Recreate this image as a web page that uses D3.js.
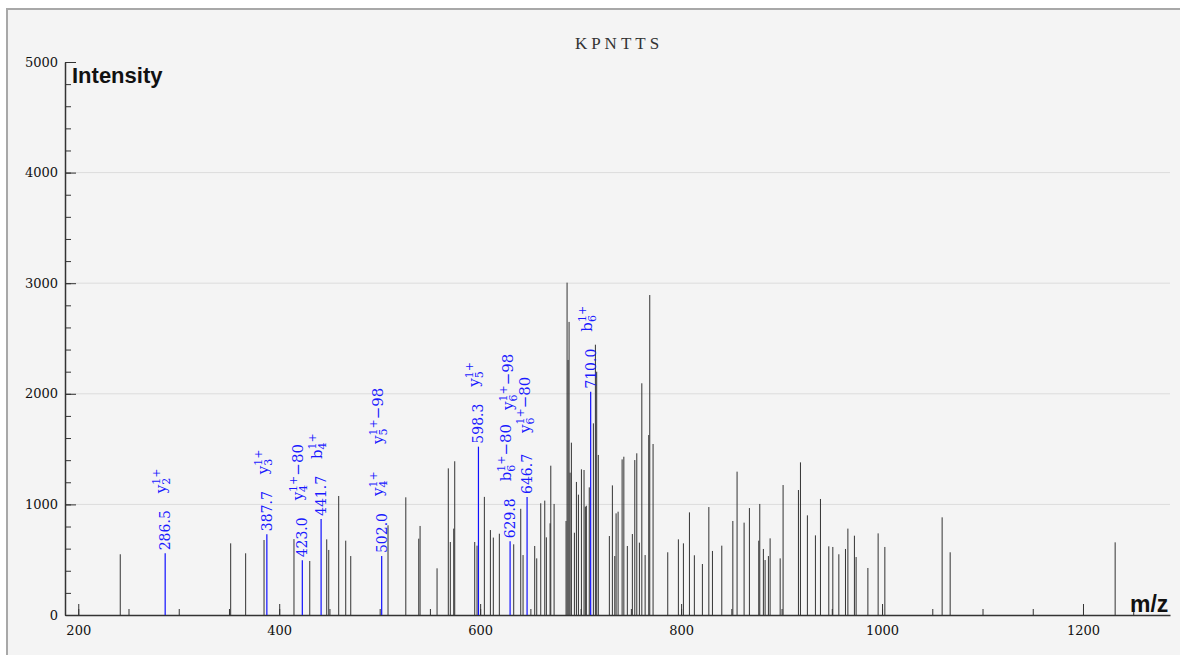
<!DOCTYPE html>
<html>
<head>
<meta charset="utf-8">
<script src="https://cdn.jsdelivr.net/npm/d3@7"></script>
<style>
  html, body { margin: 0; padding: 0; background: #fff; }
  svg { display: block; }
  .axis path, .axis line { stroke: #333; }
  .title { font-family: "Liberation Serif", "DejaVu Serif", serif; font-size: 17px; fill: #333; }
  .axis-name { font-family: "Liberation Sans", Arial, sans-serif; font-weight: bold; fill: #111; }
  .annot { font-family: "DejaVu Serif", serif; fill: #1a1aff; }
</style>
</head>
<body>
<div id="chart"></div>
<script>
// spectrum title
const title = "KPNTTS";

// unassigned peaks (m/z, intensity)
const peakMz = [241.8, 351.7, 366.6, 384.9, 414.7, 430.4, 447.3, 449.3, 459.2, 466.2, 471.2,
  508.3, 526.0, 538.9, 540.2, 557.1, 568.3, 570.3, 573.7, 574.7, 594.6, 596.9,
  604.2, 610.2, 613.1, 619.1, 633.4, 640.4, 642.7, 654.3, 656.3, 660.3, 664.3, 665.9,
  669.6, 670.3, 673.6, 685.5, 686.5, 687.5, 688.5, 689.5, 690.8, 693.8, 695.8, 697.8,
  700.8, 703.4, 704.7, 705.7, 708.6, 712.7, 714.7, 716.0, 717.6, 728.6, 731.6, 734.0,
  735.3, 737.3, 741.3, 743.0, 746.5, 751.5, 753.9, 755.9, 758.5, 760.9, 764.2, 767.8,
  768.8, 772.1, 786.7, 797.3, 802.3, 808.3, 813.2, 821.2, 827.6, 831.2, 840.5, 851.5,
  855.7, 862.7, 868.0, 877.3, 878.3, 881.9, 883.6, 886.9, 888.6, 898.6, 901.5, 916.8,
  918.8, 925.7, 933.7, 938.7, 947.0, 951.0, 957.0, 963.6, 966.0, 972.5, 974.2, 985.9,
  996.1, 1002.8, 1059.8, 1067.8, 1232.0];
const peakIntensity = [549, 648, 558, 678, 686, 488, 684, 588, 1076, 672, 533,
  811, 1064, 690, 805, 422, 1326, 660, 781, 1390, 660, 627,
  1068, 768, 700, 735, 639, 960, 542, 624, 512, 1010, 1034, 702,
  829, 1350, 1004, 850, 3005, 2306, 2650, 1287, 1558, 744, 1203, 1088,
  1317, 1311, 979, 988, 1154, 1733, 2444, 2200, 1447, 714, 1172, 533,
  919, 934, 1407, 1431, 624, 732, 1401, 1462, 654, 2095, 542, 1627,
  2893, 1546, 567, 684, 648, 928, 540, 461, 976, 579, 627, 850,
  1296, 835, 967, 672, 1004, 597, 497, 533, 693, 512, 1175, 1130,
  1380, 901, 720, 1049, 621, 615, 549, 597, 781, 717, 524, 425,
  738, 615, 883, 567, 657];

// assigned peaks and their fragment ions
const annotMz = [286.5, 387.7, 423.0, 441.7, 502.0, 598.3, 629.8, 646.7, 710.0];
const annotIntensity = [558, 730, 494, 868, 533, 1522, 666, 1067, 2019];
const annotIons = [["y2"], ["y3"], ["y4-80"], ["b4"], ["y4", "y5-98"], ["y5"], ["b6-80"], ["y6-80", "y6-98"], ["b6"]];
const ionCharge = "1+";

// axis ticks
const xMajorTicks = [200, 400, 600, 800, 1000, 1200];
const xMinorTicks = d3.range(200, 1251, 50);
const yMajorTicks = [0, 1000, 2000, 3000, 4000, 5000];
const yMinorTicks = d3.range(0, 5001, 200);
const gridTicks = [1000, 2000, 3000, 4000];

class SpectrumView {
  constructor(containerId) {
    this.container = d3.select(containerId);
    this.W = 1180; this.H = 655;
    this.plot = {left: 65, right: 1170, top: 62, bottom: 615};
    this.svg = this.container.append("svg")
      .attr("width", this.W).attr("height", this.H);
    // label nudges where labels would collide
    this.labelNudge = {"646.7:0": {rise: 64, dx: 2}, "646.7:1": {rise: 87, dx: -15}};
  }

  styleTicks(g) {
    g.selectAll("text")
      .attr("font-family", "DejaVu Serif, serif")
      .attr("font-size", 13)
      .attr("fill", "#111");
  }

  draw() {
    const svg = this.svg, p = this.plot;

    // frame
    svg.append("rect")
      .attr("x", 7).attr("y", 9).attr("width", 1200).attr("height", 680)
      .attr("fill", "#f4f4f4").attr("stroke", "#a8a8a8").attr("stroke-width", 2);

    this.x = d3.scaleLinear().domain([186.8, 1286.6]).range([p.left, p.right]);
    this.y = d3.scaleLinear().domain([0, 5000]).range([p.bottom, p.top]);

    // grid
    svg.append("g").selectAll("line").data(gridTicks).join("line")
      .attr("x1", p.left).attr("x2", p.right)
      .attr("y1", d => this.y(d)).attr("y2", d => this.y(d))
      .attr("stroke", "#dcdcdc").attr("stroke-width", 1);

    svg.append("text").attr("class", "title")
      .attr("x", 619).attr("y", 49).attr("text-anchor", "middle")
      .attr("letter-spacing", 4).text(title);

    // axes
    svg.append("g").attr("class", "axis")
      .attr("transform", `translate(0,${p.bottom})`)
      .call(d3.axisBottom(this.x).tickValues(xMinorTicks).tickSize(-6).tickFormat(""))
      .call(g => g.select(".domain").remove());
    svg.append("g").attr("class", "axis")
      .attr("transform", `translate(0,${p.bottom})`)
      .call(d3.axisBottom(this.x).tickValues(xMajorTicks).tickSizeInner(-11).tickSizeOuter(0).tickPadding(11).tickFormat(d3.format("d")))
      .call(g => g.select(".domain").attr("stroke-width", 1.5))
      .call(g => this.styleTicks(g));

    svg.append("g").attr("class", "axis")
      .attr("transform", `translate(${p.left},0)`)
      .call(d3.axisLeft(this.y).tickValues(yMinorTicks).tickSize(-6).tickFormat(""))
      .call(g => g.select(".domain").remove());
    svg.append("g").attr("class", "axis")
      .attr("transform", `translate(${p.left},0)`)
      .call(d3.axisLeft(this.y).tickValues(yMajorTicks).tickSizeInner(-11).tickSizeOuter(0).tickPadding(7).tickFormat(d3.format("d")))
      .call(g => g.select(".domain").attr("stroke-width", 1.5))
      .call(g => this.styleTicks(g));

    // peaks
    svg.append("g").selectAll("line").data(peakMz).join("line")
      .attr("x1", d => this.x(d)).attr("x2", d => this.x(d))
      .attr("y1", this.y(0)).attr("y2", (d, i) => this.y(peakIntensity[i]))
      .attr("stroke", "#333").attr("stroke-width", 1);

    const ann = annotMz.map((mz, i) => ({mz, inten: annotIntensity[i], ions: annotIons[i]}));
    const ag = svg.append("g");
    ag.selectAll("line").data(ann).join("line")
      .attr("x1", d => this.x(d.mz)).attr("x2", d => this.x(d.mz))
      .attr("y1", this.y(0)).attr("y2", d => this.y(d.inten))
      .attr("stroke", "#1010ff").attr("stroke-width", 1.2);

    ann.forEach(d => {
      const px = this.x(d.mz), top = this.y(d.inten);
      ag.append("text").attr("class", "annot")
        .attr("font-size", 14)
        .attr("transform", `translate(${px + 5},${top - 3}) rotate(-90)`)
        .text(d.mz.toFixed(1));
      d.ions.forEach((ion, k) => {
        const nudge = this.labelNudge[`${d.mz.toFixed(1)}:${k}`] || {rise: 60 + k * 52, dx: 0};
        this.ionLabel(ag, ion, px + nudge.dx + 1, top - nudge.rise);
      });
    });

    svg.append("text").attr("class", "axis-name")
      .attr("x", 72).attr("y", 83).attr("font-size", 22).text("Intensity");
    svg.append("text").attr("class", "axis-name")
      .attr("x", 1130).attr("y", 612).attr("font-size", 23).text("m/z");
  }

  ionLabel(g, ion, x, y) {
    const m = ion.match(/^([a-z])(\d+)(-\d+)?$/);
    const t = g.append("text").attr("class", "annot")
      .attr("font-size", 15)
      .attr("transform", `translate(${x},${y}) rotate(-90)`);
    t.append("tspan").text(m[1]);
    const sup = t.append("tspan").attr("font-size", 11).attr("dy", -6).text(ionCharge);
    const supW = sup.node().getComputedTextLength();
    const sub = t.append("tspan").attr("font-size", 11).attr("dx", -supW).attr("dy", 10).text(m[2]);
    const subW = sub.node().getComputedTextLength();
    if (m[3]) {
      t.append("tspan").attr("dx", supW - subW).attr("dy", -4)
        .text("\u2212" + m[3].slice(1));
    }
  }
}

const view = new SpectrumView("#chart");
view.draw();
</script>
</body>
</html>
